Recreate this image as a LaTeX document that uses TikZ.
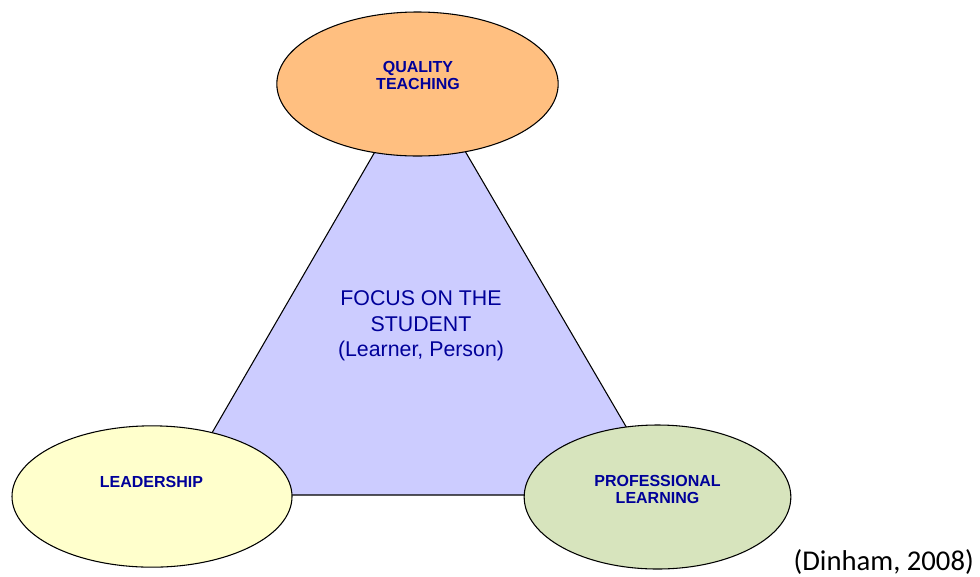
\documentclass[tikz,border=0pt]{standalone}
\usepackage{fontspec}
\setmainfont{Liberation Sans}
\newfontfamily\citefont{Carlito}
\usetikzlibrary{shapes.geometric}
\definecolor{triFill}{HTML}{CCCCFF}
\definecolor{qtFill}{HTML}{FFBF80}
\definecolor{ldFill}{HTML}{FFFFCC}
\definecolor{plFill}{HTML}{D7E4BD}
\definecolor{labelBlue}{HTML}{000099}
\begin{document}
\begin{tikzpicture}[x=0.75pt,y=-0.75pt,
  bubble/.style={ellipse, draw=black, line width=0.8pt, inner sep=0pt},
  bubbletext/.style={text=labelBlue, font=\fontsize{12}{13}\selectfont\bfseries, align=center, inner sep=0pt},
  centertext/.style={text=labelBlue, font=\fontsize{16}{19}\selectfont, align=center, inner sep=0pt}]
  \useasboundingbox (0,0) rectangle (980,576);
  % central triangle
  \coordinate (apex) at (420,74);
  \coordinate (left) at (176,495);
  \coordinate (right) at (666,495);
  \draw[fill=triFill, line width=0.8pt] (apex) -- (left) -- (right) -- cycle;
  \node[centertext] (focus) at (421,326) {FOCUS ON THE\\STUDENT\\(Learner, Person)};
  % the three ellipses
  \node[bubble, fill=qtFill, minimum width=211pt, minimum height=108pt] (qt) at (417.5,84) {};
  \node[bubble, fill=ldFill, minimum width=210pt, minimum height=106pt] (ld) at (152,496.5) {};
  \node[bubble, fill=plFill, minimum width=200pt, minimum height=108pt] (pl) at (657.5,497) {};
  \node[bubbletext] (qtlabel) at (418,75.5) {QUALITY\\TEACHING};
  \node[bubbletext] (ldlabel) at (151.5,481.5) {LEADERSHIP};
  \node[bubbletext] (pllabel) at (657.5,489.5) {PROFESSIONAL\\LEARNING};
  % citation
  \node[anchor=east, inner sep=0pt, font=\citefont\fontsize{21.5}{24}\selectfont] (cite) at (974,562) {(Dinham, 2008)};
\end{tikzpicture}
\end{document}
